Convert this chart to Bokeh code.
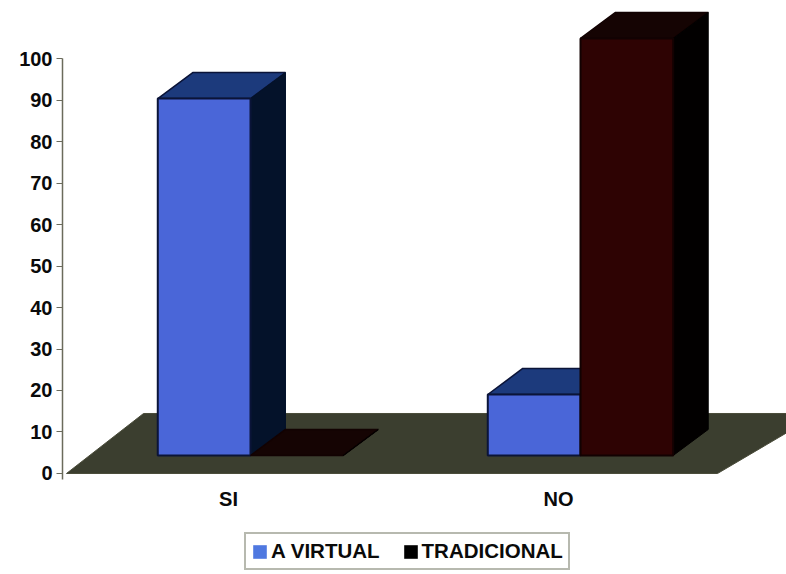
from bokeh.plotting import figure
from bokeh.models import (LinearAxis, FixedTicker, Legend, LegendItem, ColumnDataSource)
from bokeh.core.properties import value
from bokeh.embed import file_html
from bokeh.resources import INLINE

categories = ["SI", "NO"]
cat_positions = [0.0, 1.0]
series_names = ["A VIRTUAL", "TRADICIONAL"]
virtual_values = [86, 14.7]
tradicional_values = [0, 100.5]
y_ticks = [0, 10, 20, 30, 40, 50, 60, 70, 80, 90, 100]

BAR_W = 0.281
DX = 0.106      # depth offset of a bar, in category units
DY = 6.27       # depth offset of a bar, in value units
BASE = 4.34     # bars stand this far back on the floor
FLOOR_BACK = 14.46
LABEL_SHIFT = -0.0667

p = figure(width=786, height=574, x_range=(-0.5697, 1.6242), y_range=(-24.34, 113.98),
           output_backend="svg", toolbar_location=None, x_axis_type=None, y_axis_type=None,
           min_border_left=62, min_border_right=0, min_border_top=0, min_border_bottom=0,
           outline_line_color=None, background_fill_color="white", border_fill_color="white")
p.xgrid.visible = False
p.ygrid.visible = False

# floor
p.patch([-0.5576, -0.3242, 1.6242 + 0.1, 1.4152],
        [0, FLOOR_BACK, FLOOR_BACK, 0],
        fill_color="#3b3e2f", line_color="#4a4c3a", line_width=1)


def bar(u0, val, front, top, side, edge):
    u1 = u0 + BAR_W
    y0, y1 = BASE, BASE + val
    p.patch([u0, u0 + DX, u1 + DX, u1], [y1, y1 + DY, y1 + DY, y1],
            fill_color=top, line_color=edge, line_width=1.5)
    p.patch([u1, u1 + DX, u1 + DX, u1], [y1, y1 + DY, y0 + DY, y0],
            fill_color=side, line_color=side, line_width=1)
    if val > 0:
        p.quad(left=u0, right=u1, bottom=y0, top=y1,
               fill_color=front, line_color=edge, line_width=2)


for c, v, t in zip(cat_positions, virtual_values, tradicional_values):
    bar(c - BAR_W, v, "#4a66d8", "#1c3a7c", "#04122a", "#0b1438")
    bar(c, t, "#2e0303", "#150403", "#020000", "#120202")

# y axis
yaxis = LinearAxis(ticker=FixedTicker(ticks=y_ticks),
                   bounds=(-1.45, 100),
                   axis_line_color="#6b6b5c", axis_line_width=1.5,
                   major_tick_line_color="#6b6b5c", major_tick_in=0, major_tick_out=6,
                   minor_tick_line_color=None,
                   major_label_standoff=4,
                   major_label_text_font="Liberation Sans",
                   major_label_text_font_style="bold",
                   major_label_text_font_size="20px",
                   major_label_text_color="#0a0a0a")
p.add_layout(yaxis, "left")

# category labels
p.text(x=[c + LABEL_SHIFT for c in cat_positions], y=[-6.2, -6.2], text=categories,
       text_align="center", text_baseline="middle", text_color="#0a0a0a",
       text_font=value("Liberation Sans"), text_font_style="bold", text_font_size="20px")

# legend
nan = float("nan")
placeholder = ColumnDataSource(dict(l=[nan], r=[nan], b=[nan], t=[nan]))
s1 = p.quad(left="l", right="r", bottom="b", top="t", source=placeholder, fill_color="#4f78e0", line_color=None)
s2 = p.quad(left="l", right="r", bottom="b", top="t", source=placeholder, fill_color="#000000", line_color=None)
legend = Legend(items=[LegendItem(label=series_names[0], renderers=[s1]),
                       LegendItem(label=series_names[1], renderers=[s2])],
                orientation="horizontal", location=(182, 4),
                label_text_font="Liberation Sans", label_text_font_style="bold",
                label_text_font_size="20.5px", label_text_color="#0a0a0a",
                glyph_width=17, glyph_height=17, label_standoff=3, spacing=22,
                padding=5, margin=0,
                border_line_color="#70735f", border_line_width=2,
                background_fill_color="white", background_fill_alpha=1)
p.add_layout(legend, "center")

open("out.html", "w").write(file_html(p, INLINE))
